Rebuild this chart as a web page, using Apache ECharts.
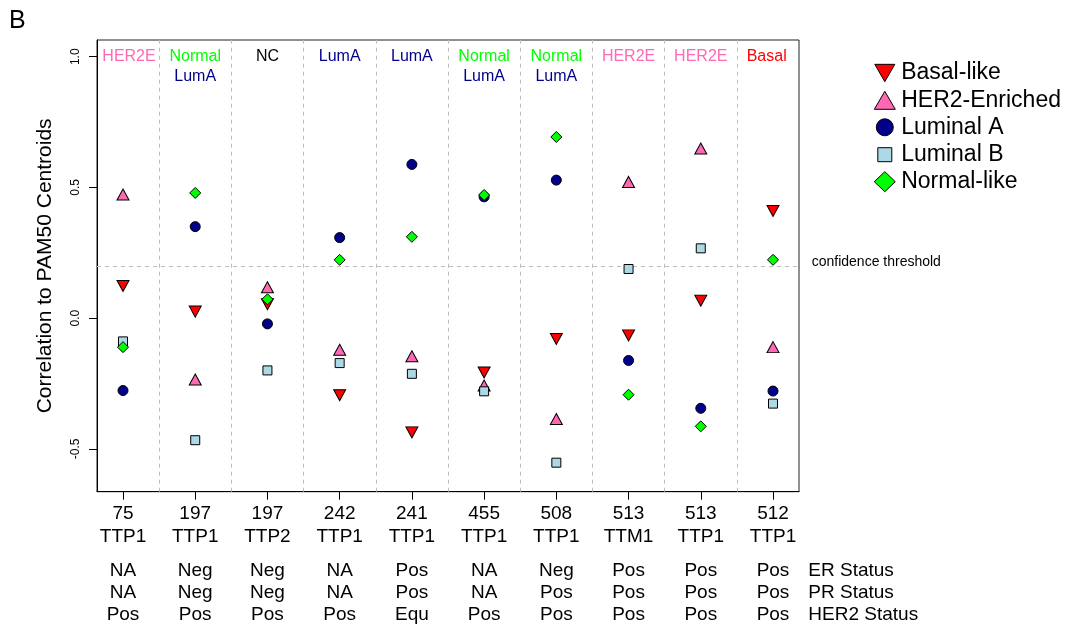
<!DOCTYPE html>
<html><head><meta charset="utf-8">
<script src="https://cdn.jsdelivr.net/npm/echarts@6/dist/echarts.min.js"></script>
<style>html,body{margin:0;padding:0;background:#fff}#c{width:1077px;height:629px}</style>
</head><body><div id="c"></div>
<script>
// ---- data ----
const patientIds = ['75','197','197','242','241','455','508','513','513','512'];
const sampleIds  = ['TTP1','TTP1','TTP2','TTP1','TTP1','TTP1','TTP1','TTM1','TTP1','TTP1'];
const erStatus   = ['NA','Neg','Neg','NA','Pos','NA','Neg','Pos','Pos','Pos'];
const prStatus   = ['NA','Neg','Neg','NA','Pos','NA','Pos','Pos','Pos','Pos'];
const her2Status = ['Pos','Pos','Pos','Pos','Equ','Pos','Pos','Pos','Pos','Pos'];
const calls = [['HER2E'],['Normal','LumA'],['NC'],['LumA'],['LumA'],['Normal','LumA'],['Normal','LumA'],['HER2E'],['HER2E'],['Basal']];
const statusNames = ['ER Status','PR Status','HER2 Status'];

const basalLike    = [0.123, 0.025, 0.053, -0.295, -0.437, -0.208, -0.080, -0.066, 0.067, 0.410];
const her2Enriched = [0.473, -0.235, 0.118, -0.121, -0.146, -0.258, -0.386, 0.521, 0.649, -0.111];
const luminalA     = [-0.277, 0.350, -0.022, 0.308, 0.588, 0.464, 0.528, -0.162, -0.345, -0.279];
const luminalB     = [-0.089, -0.467, -0.200, -0.172, -0.213, -0.280, -0.553, 0.188, 0.267, -0.327];
const normalLike   = [-0.111, 0.479, 0.072, 0.223, 0.311, 0.471, 0.693, -0.293, -0.414, 0.223];

const yTicks = [-0.5, 0, 0.5, 1.0];
const threshold = 0.2;
const thresholdLabel = 'confidence threshold';
const yTitle = 'Correlation to PAM50 Centroids';
const panelLabel = 'B';

// ---- styling ----
const FONT = '"Liberation Sans", Arial, Helvetica, sans-serif';
const DOWN = 'path://M0,0L20,0L10,17.32Z';
const seriesDefs = [
  {name:'Basal-like',    values:basalLike,    color:'#FF0000', symbol:DOWN,       size:[12,11], leg:[20,18]},
  {name:'HER2-Enriched', values:her2Enriched, color:'#FF69B4', symbol:'triangle', size:[12,11], leg:[21,18]},
  {name:'Luminal A',     values:luminalA,     color:'#00008B', symbol:'circle',   size:[10,10], leg:[17,17]},
  {name:'Luminal B',     values:luminalB,     color:'#ADD8E6', symbol:'rect',     size:[9,9],   leg:[14,14]},
  {name:'Normal-like',   values:normalLike,   color:'#00FF00', symbol:'diamond',  size:[11,11], leg:[21,20]}
];
const callColors = {HER2E:'#FF69B4', Normal:'#00FF00', LumA:'#00008B', NC:'#000000', Basal:'#FF0000'};

const positions = patientIds.map((_, i) => i + 1);
const xMin = 1 - 0.04 * (positions.length - 1);
const xMax = positions.length + 0.04 * (positions.length - 1);
const yMin = -0.6 - 0.04 * 1.6, yMax = 1.0 + 0.04 * 1.6;
const separators = positions.slice(0, -1).map(p => p + 0.5);

const series = seriesDefs.map((d, si) => ({
  type: 'scatter',
  name: d.name,
  xAxisIndex: 0, yAxisIndex: 0,
  symbol: d.symbol,
  symbolSize: d.size,
  itemStyle: {color: d.color, borderColor: '#000', borderWidth: 1, opacity: 1},
  emphasis: {disabled: true},
  z: 3 + si,
  data: d.values.map((v, i) => [positions[i], v])
}));
series[0].markLine = {
  silent: true, symbol: 'none', z: 1, animation: false,
  label: {show: false},
  lineStyle: {color: '#BEBEBE', type: [4, 4], width: 1},
  data: separators.map(s => ({xAxis: s})).concat([{yAxis: threshold}])
};

const legendCenterY = [73, 100.3, 127.3, 154.7, 181.7];
const legendIconX = 884.3, legendTextX = 900.7;
const legends = seriesDefs.map((d, i) => ({
  data: [{name: d.name, icon: d.symbol}],
  left: legendIconX - d.leg[0] / 2,
  top: legendCenterY[i] - 12,
  padding: 0,
  itemWidth: d.leg[0], itemHeight: d.leg[1],
  selectedMode: false,
  itemStyle: {borderColor: '#000', borderWidth: 1},
  textStyle: {fontSize: 23, color: '#000', fontFamily: FONT, lineHeight: 24,
              padding: [0, 0, 0, legendTextX - (legendIconX + d.leg[0] / 2 + 5)]}
}));

const rich = {};
Object.keys(callColors).forEach(k => {
  rich[k] = {color: callColors[k], fontSize: 16, lineHeight: 19.5, fontFamily: FONT};
  rich[k + 'L'] = {color: callColors[k], fontSize: 16, lineHeight: 19.5, fontFamily: FONT, padding: [0, 0, 0, 12]};
  rich[k + 'R'] = {color: callColors[k], fontSize: 16, lineHeight: 19.5, fontFamily: FONT, padding: [0, 12.6, 0, 0]};
});

const option = {
  animation: false,
  backgroundColor: '#fff',
  textStyle: {fontFamily: FONT},
  grid: {left: 97, right: 278, top: 40, bottom: 137.3, show: true, borderColor: '#222', borderWidth: 1, backgroundColor: 'transparent'},
  legend: legends,
  xAxis: [
    {type: 'value', position: 'bottom', min: xMin, max: xMax,
     axisLine: {show: true, onZero: false, lineStyle: {color: '#000'}},
     axisTick: {show: true, length: 8, customValues: positions, lineStyle: {color: '#000'}},
     splitLine: {show: false},
     axisLabel: {customValues: positions, margin: 11, fontSize: 19, lineHeight: 23, color: '#000',
       formatter: v => patientIds[Math.round(v) - 1] + '\n' + sampleIds[Math.round(v) - 1]}},
    {type: 'value', position: 'bottom', min: xMin, max: xMax,
     axisLine: {show: false, onZero: false}, axisTick: {show: false}, splitLine: {show: false},
     axisLabel: {customValues: positions, margin: 68, fontSize: 19, lineHeight: 22.2, color: '#000',
       formatter: v => { const i = Math.round(v) - 1; return erStatus[i] + '\n' + prStatus[i] + '\n' + her2Status[i]; }}},
    {type: 'value', position: 'top', min: xMin, max: xMax,
     axisLine: {show: false, onZero: false}, axisTick: {show: false}, splitLine: {show: false},
     axisLabel: {customValues: positions, inside: true, margin: 7, rich: rich,
       formatter: v => {
         const i = Math.round(v) - 1;
         const suffix = i === 0 ? 'L' : (i === positions.length - 1 ? 'R' : '');
         return calls[i].map(c => '{' + c + suffix + '|' + c + '}').join('\n');
       }}}
  ],
  yAxis: [{
    type: 'value', min: yMin, max: yMax,
    name: yTitle, nameLocation: 'middle', nameRotate: 90, nameGap: 41,
    nameTextStyle: {fontSize: 21, color: '#000', fontFamily: FONT},
    axisLine: {show: true, onZero: false, lineStyle: {color: '#000'}},
    axisTick: {show: true, length: 8, customValues: yTicks, lineStyle: {color: '#000'}},
    splitLine: {show: false},
    axisLabel: {customValues: yTicks, rotate: 90, margin: 15, fontSize: 12, color: '#000',
      formatter: v => v.toFixed(1)}
  }],
  graphic: [
    {type: 'text', left: 9, top: 9, style: {text: panelLabel, fontSize: 25, fill: '#000', fontFamily: FONT}},
    {type: 'text', x: 811.7, y: 262, style: {text: thresholdLabel, fontSize: 14, fill: '#000', fontFamily: FONT, verticalAlign: 'middle'}}
  ].concat(statusNames.map((s, i) => ({
    type: 'text', x: 808.3, y: 570.7 + i * 22.2,
    style: {text: s, fontSize: 19, fill: '#000', fontFamily: FONT, verticalAlign: 'middle'}
  }))),
  series: series
};

const chart = echarts.init(document.getElementById('c'), null, {renderer: 'canvas'});
chart.setOption(option);
</script>
</body></html>
